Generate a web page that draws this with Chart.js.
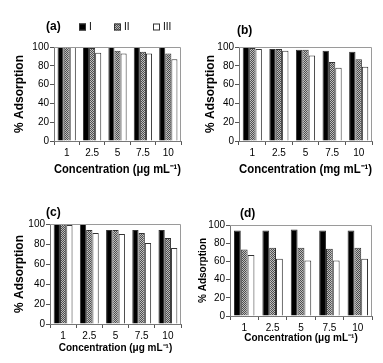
<!DOCTYPE html>
<html>
<head>
<meta charset="utf-8">
<script src="https://cdn.jsdelivr.net/npm/chart.js@4.4.0/dist/chart.umd.min.js"></script>
<style>
  body { margin: 0; background: #fff; width: 383px; height: 363px; position: relative; overflow: hidden; }
  .panel { position: absolute; }
  canvas { display: block; }
</style>
</head>
<body>
<div class="panel" style="left:0;top:0"><canvas id="chartA" width="191" height="181"></canvas></div>
<div class="panel" style="left:191px;top:0"><canvas id="chartB" width="192" height="181"></canvas></div>
<div class="panel" style="left:0;top:181px"><canvas id="chartC" width="191" height="182"></canvas></div>
<div class="panel" style="left:191px;top:181px"><canvas id="chartD" width="192" height="182"></canvas></div>
<script>
// data
const categories = ['1', '2.5', '5', '7.5', '10'];
const seriesNames = ['I', 'II', 'III'];

const aI = [100, 100, 100, 100, 100];
const aII = [100, 99, 96, 95, 93];
const aIII = [100, 94, 93, 93, 87];

const bI = [100, 98, 97, 96, 95];
const bII = [99, 98, 97, 84, 87];
const bIII = [98, 96, 91, 78, 79];

const cI = [100, 100, 94, 94, 94];
const cII = [100, 94, 94, 91, 86];
const cIII = [99, 91, 90, 81, 76];

const dI = [94, 94, 95, 94, 94];
const dII = [73, 75, 75, 74, 75];
const dIII = [67, 63, 61, 61, 63];

const FONT = "'Liberation Sans', Arial, sans-serif";

// checkered grey fill for series II
function makeChecker() {
    const c = document.createElement('canvas');
    c.width = 2; c.height = 2;
    const g = c.getContext('2d');
    g.fillStyle = '#bdbdbd'; g.fillRect(0, 0, 2, 2);
    g.fillStyle = '#4d4d4d'; g.fillRect(0, 0, 1, 1); g.fillRect(1, 1, 1, 1);
    return g.createPattern(c, 'repeat');
}
const checker = makeChecker();
const fills = ['#000000', checker, '#ffffff'];

// panel letter, optional legend, grey frame on top/right
const panelDecor = {
    id: 'panelDecor',
    afterDraw(chart, args, opts) {
        const ctx = chart.ctx;
        const area = chart.chartArea;
        ctx.save();
        ctx.strokeStyle = '#9a9a9a';
        ctx.lineWidth = 1;
        ctx.beginPath();
        ctx.moveTo(area.left, area.top + 0.5);
        ctx.lineTo(area.right - 0.5, area.top + 0.5);
        ctx.lineTo(area.right - 0.5, area.bottom);
        ctx.stroke();

        ctx.fillStyle = '#000';
        ctx.font = 'bold 12px ' + FONT;
        ctx.textBaseline = 'middle';
        ctx.textAlign = 'left';
        ctx.fillText(opts.label, opts.labelX, opts.labelY);

        if (opts.legend) {
            ctx.font = '10px ' + FONT;
            chart.data.datasets.forEach((ds, i) => {
                const x = opts.legend[i];
                const y = opts.labelY;
                ctx.fillStyle = ds.backgroundColor;
                ctx.fillRect(x, y - 3.5, 7, 7);
                ctx.strokeStyle = '#333';
                ctx.strokeRect(x + 0.5, y - 3, 6, 6);
                ctx.fillStyle = '#000';
                ctx.fillText(ds.label, x + 10, y);
            });
        }
        ctx.restore();
    }
};

function makePanel(id, label, sI, sII, sIII, xTitle, o) {
    const canvas = document.getElementById(id);
    const W = canvas.width, H = canvas.height;
    const values = [sI, sII, sIII];
    return new Chart(canvas, {
        type: 'bar',
        data: {
            labels: categories,
            datasets: seriesNames.map((name, i) => ({
                label: name,
                data: values[i],
                backgroundColor: fills[i],
                borderColor: '#333333',
                borderWidth: 1,
                categoryPercentage: 0.72,
                barPercentage: 1.0
            }))
        },
        options: {
            responsive: false,
            animation: false,
            devicePixelRatio: 1,
            layout: { padding: { top: o.top, right: W - o.right, left: 0, bottom: 0 } },
            scales: {
                x: {
                    grid: { display: true, drawOnChartArea: false, tickLength: 4, color: '#555' },
                    border: { color: '#777' },
                    ticks: { color: '#000', font: { family: FONT, size: 10 }, padding: 2, maxRotation: 0 },
                    title: {
                        display: true, text: xTitle, color: '#000',
                        font: { family: FONT, size: o.xTitleSize, weight: 'bold' },
                        padding: { top: 0, bottom: H - o.xTitleY - o.xTitleSize * 0.6 }
                    },
                    afterFit(scale) { scale.height = H - o.bottom; }
                },
                y: {
                    min: 0, max: 100,
                    ticks: { stepSize: 20, color: '#000', font: { family: FONT, size: 10 }, padding: 1 },
                    grid: { display: true, drawOnChartArea: false, tickLength: 4, color: '#555' },
                    border: { color: '#777' },
                    title: {
                        display: true, text: '% Adsorption', color: '#000',
                        font: { family: FONT, size: o.yTitleSize, weight: 'bold' },
                        padding: { top: o.yTitleX - o.yTitleSize * 0.6, bottom: 0 }
                    },
                    afterFit(scale) { scale.width = o.left; }
                }
            },
            plugins: {
                legend: { display: false },
                tooltip: { enabled: false },
                panelDecor: { label: label, labelX: o.labelX, labelY: o.labelY, legend: o.legend }
            }
        },
        plugins: [panelDecor]
    });
}

makePanel('chartA', '(a)', aI, aII, aIII, 'Concentration (\u03bcg mL\u207b\u00b9)', {
    left: 54, right: 181, top: 47, bottom: 141, xTitleY: 170, xTitleSize: 12,
    yTitleX: 20, yTitleSize: 12, labelX: 46, labelY: 27, legend: [79, 114, 153]
});
makePanel('chartB', '(b)', bI, bII, bIII, 'Concentration (mg mL\u207b\u00b9)', {
    left: 48, right: 181, top: 47, bottom: 141, xTitleY: 170, xTitleSize: 12,
    yTitleX: 20, yTitleSize: 12, labelX: 46, labelY: 31
});
makePanel('chartC', '(c)', cI, cII, cIII, 'Concentration (\u03bcg mL\u207b\u00b9)', {
    left: 50, right: 181, top: 43, bottom: 143, xTitleY: 167, xTitleSize: 10,
    yTitleX: 20, yTitleSize: 12, labelX: 46, labelY: 32
});
makePanel('chartD', '(d)', dI, dII, dIII, 'Concentration (\u03bcg mL\u207b\u00b9)', {
    left: 39, right: 181, top: 44, bottom: 135, xTitleY: 157, xTitleSize: 10,
    yTitleX: 12, yTitleSize: 10, labelX: 49, labelY: 33
});
</script>
</body>
</html>
